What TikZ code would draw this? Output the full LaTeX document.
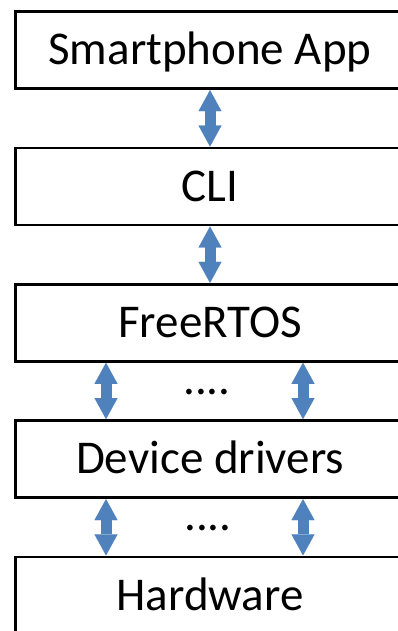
\documentclass[tikz,border=0pt]{standalone}
\usepackage{fontspec}
\setmainfont{Carlito}
\usetikzlibrary{positioning, calc, arrows.meta}

\begin{document}
\begin{tikzpicture}[x=1pt, y=1pt,
    layer/.style={draw=borderColour, line width=2.6pt, fill=white, minimum width=389pt, minimum height=77pt, inner sep=0pt, outer sep=0pt, font=\fontsize{47}{56}\selectfont, text height=29.5pt, text depth=0pt},
    link/.style={draw=linkColour, line width=11pt, {Triangle[width=23pt,length=21pt,line width=0.01pt]}-{Triangle[width=23pt,length=21pt,line width=0.01pt]}, shorten <=1.5pt, shorten >=1.5pt},
    dotsLabel/.style={font=\fontsize{47}{56}\selectfont, inner sep=0pt, anchor=base}]
    % Define colours
    \definecolor{borderColour}{HTML}{000000}
    \definecolor{linkColour}{HTML}{4F81BD}

    % Macros for the gap between layers and the side arrow offsets
    \def\layerGap{59.3pt} % Gap between two layers
    \def\leftLink{90.5pt} % X offset of the left arrows
    \def\rightLink{287.5pt} % X offset of the right arrows

    % Fix the size of the picture
    \useasboundingbox (0,0) rectangle (398,-631);

  % Draw the layers
  \node[layer] (app) at (210,-50.2) {Smartphone App};
  \node[layer, below=\layerGap of app] (cli) {CLI};
  \node[layer, below=\layerGap of cli] (rtos) {FreeRTOS};
  \node[layer, below=\layerGap of rtos] (drv) {Device drivers};
  \node[layer, below=\layerGap of drv] (hw) {Hardware};

  % Arrows between the upper layers
  \draw[link] (app.south) -- (cli.north);
  \draw[link] (cli.south) -- (rtos.north);

  % Arrows between FreeRTOS and the device drivers
  \coordinate (rtosL) at ($(rtos.south west)+(\leftLink,0)$);
  \coordinate (rtosR) at ($(rtos.south west)+(\rightLink,0)$);
  \coordinate (drvTL) at ($(drv.north west)+(\leftLink,0)$);
  \coordinate (drvTR) at ($(drv.north west)+(\rightLink,0)$);
  \draw[link] (rtosL) -- (drvTL);
  \draw[link] (rtosR) -- (drvTR);
  \node[dotsLabel] (dotsA) at ($(rtos.south)!0.5!(drv.north)+(-3,-3.5)$) {....};

  % Arrows between the device drivers and the hardware
  \coordinate (drvBL) at ($(drv.south west)+(\leftLink,0)$);
  \coordinate (drvBR) at ($(drv.south west)+(\rightLink,0)$);
  \coordinate (hwL) at ($(hw.north west)+(\leftLink,0)$);
  \coordinate (hwR) at ($(hw.north west)+(\rightLink,0)$);
  \draw[link] (drvBL) -- (hwL);
  \draw[link] (drvBR) -- (hwR);
  \node[dotsLabel] (dotsB) at ($(drv.south)!0.5!(hw.north)+(-2,-3.5)$) {....};

\end{tikzpicture}
\end{document}
